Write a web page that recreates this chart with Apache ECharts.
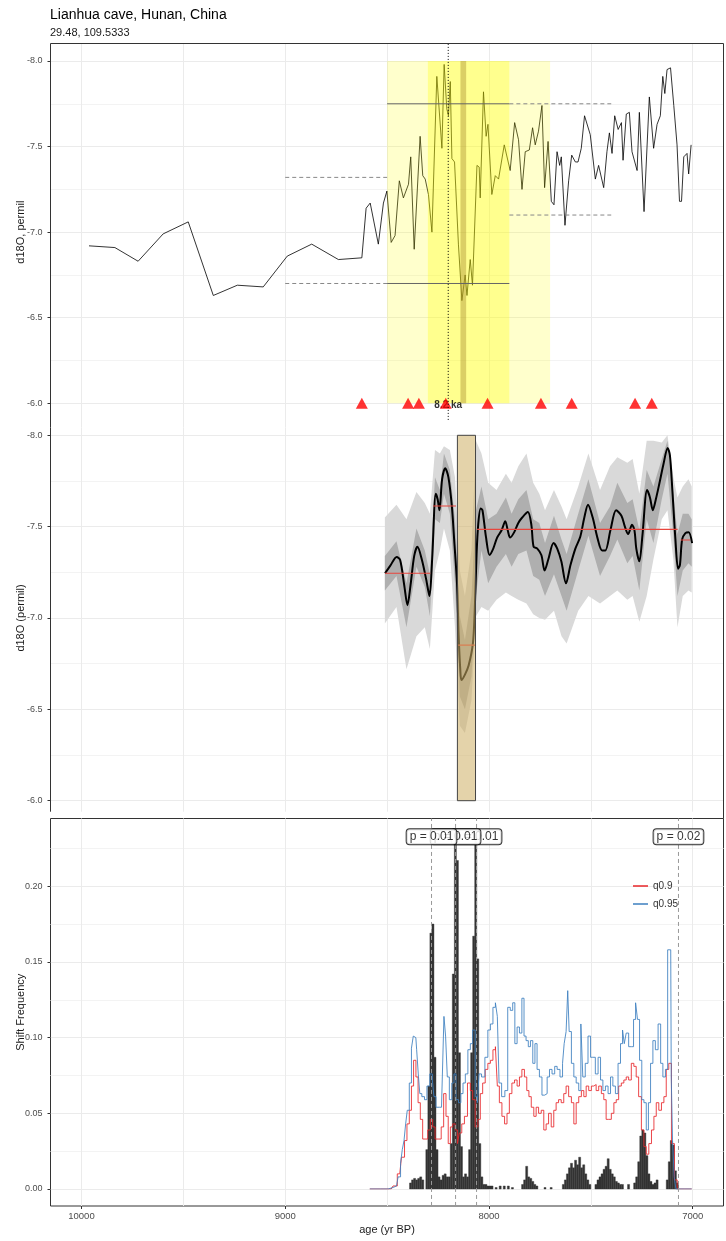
<!DOCTYPE html>
<html>
<head>
<meta charset="utf-8">
<title>Lianhua cave, Hunan, China</title>
<script src="https://cdn.jsdelivr.net/npm/echarts@6/dist/echarts.min.js"></script>
<style>
html,body{margin:0;padding:0;background:#ffffff;}
#chart{width:726px;height:1241px;}
</style>
</head>
<body>
<div id="chart"></div>
<script>
// ======================= DATA =======================
// --- panel 1: raw d18O record ---
const rawAge = [9963,9836,9722,9599,9476,9353,9235,9108,8990,8870,8739,8624,
  8603,8583,8543,8518,8501,8480,8461,8440,8420,8395,8384,8367,8338,8325,8313,8297,8280,8256,8231,8220,
  8207,8199,8190,8182,8169,8150,8133,8117,8108,8092,8081,8059,8048,8043,8027,8014,8005,7986,7969,7953,
  7925,7896,7874,7855,7838,7822,7802,7786,7773,7757,7740,7727,7710,7694,7681,7666,7653,7645,7627,7609,
  7594,7576,7563,7547,7531,7503,7478,7462,7437,7421,7409,7396,7383,7366,7350,7342,7326,7311,7298,7273,
  7262,7239,7213,7192,7175,7159,7147,7137,7126,7109,7093,7077,7065,7055,7044,7028,7020,7008];
const rawD18O = [-6.92,-6.91,-6.83,-6.99,-7.06,-6.63,-6.69,-6.68,-6.86,-6.93,-6.84,-6.85,
  -7.14,-7.17,-6.93,-7.17,-7.24,-6.94,-6.98,-7.30,-7.20,-7.28,-7.44,-6.90,-7.56,-7.33,-7.31,-7.22,-7.00,-7.91,-7.49,-7.98,
  -7.72,-7.68,-7.88,-7.43,-7.41,-6.93,-6.60,-6.75,-6.63,-6.84,-6.69,-7.39,-7.38,-7.20,-7.82,-7.56,-7.63,-7.22,-7.33,-7.31,
  -7.51,-7.36,-7.64,-7.54,-7.25,-7.47,-7.48,-7.61,-7.51,-7.59,-7.74,-7.26,-7.53,-7.18,-7.16,-7.47,-7.39,-7.44,-7.04,-7.30,
  -7.45,-7.41,-7.41,-7.49,-7.68,-7.57,-7.31,-7.39,-7.26,-7.47,-7.58,-7.46,-7.68,-7.60,-7.64,-7.42,-7.69,-7.70,-7.47,-7.36,
  -7.70,-7.12,-7.79,-7.49,-7.63,-7.68,-7.91,-7.81,-7.95,-7.96,-7.74,-7.51,-7.18,-7.18,-7.44,-7.46,-7.34,-7.51];
const windowStart = [8500, 8300, 8140];
const windowEnd   = [7700, 7900, 8112];
const meanStart = [8500, 8500, 9000, 9000, 7900, 7900];
const meanEnd   = [7900, 7900, 8500, 8500, 7400, 7400];
const meanLevel = [-7.75, -6.70, -7.32, -6.70, -7.75, -7.10];
const meanInEvent = [true, true, false, false, false, false];
const dateAge = [8624, 8397, 8344, 8212, 8007, 7745, 7594, 7283, 7201];
const refAge = 8200;
const refLabel = '8.2 ka';

// --- panel 2: smoothed record with uncertainty ---
const smAge = [8510,8485,8453,8436,8416,8400,8385,8367,8351,8329,8308,8292,8279,8261,8252,8243,8230,8215,8199,8182,
  8171,8157,8149,8141,8135,8118,8100,8079,8070,8061,8053,8041,8032,8015,7997,7979,7960,7938,7920,7908,7896,7876,
  7856,7837,7809,7792,7781,7763,7743,7727,7709,7683,7665,7645,7622,7600,7576,7552,7532,7514,7491,7468,7445,7429,
  7404,7376,7350,7333,7317,7298,7286,7277,7262,7247,7224,7210,7196,7181,7163,7144,7123,7112,7100,7085,7072,7063,
  7052,7036,7020,7003];
const smVal = [-7.245,-7.285,-7.334,-7.317,-7.18,-7.07,-7.18,-7.34,-7.39,-7.317,-7.21,-7.12,-7.32,-7.68,-7.65,-7.59,-7.76,-7.82,-7.77,-7.61,
  -7.43,-7.19,-6.91,-6.72,-6.66,-6.69,-6.74,-6.86,-7.04,-7.345,-7.51,-7.60,-7.59,-7.445,-7.345,-7.38,-7.44,-7.48,-7.53,-7.48,-7.44,-7.47,
  -7.52,-7.55,-7.58,-7.51,-7.39,-7.38,-7.345,-7.26,-7.32,-7.41,-7.38,-7.31,-7.19,-7.29,-7.38,-7.445,-7.55,-7.62,-7.55,-7.44,-7.37,-7.37,
  -7.48,-7.59,-7.56,-7.50,-7.46,-7.51,-7.48,-7.38,-7.31,-7.45,-7.70,-7.66,-7.59,-7.65,-7.74,-7.84,-7.93,-7.89,-7.70,-7.43,-7.27,-7.29,
  -7.43,-7.465,-7.47,-7.41];
const bandAge = [8511,8454,8405,8356,8315,8290,8265,8241,8221,8192,8167,8143,8118,8086,8064,8037,8004,7963,7917,7889,7856,7816,
  7783,7753,7725,7681,7644,7619,7562,7512,7455,7406,7370,7321,7295,7262,7226,7193,7152,7124,7095,7075,7049,7021,7005];
const outerLo = [-7.55,-7.62,-7.54,-7.69,-7.63,-7.57,-7.92,-7.90,-7.94,-7.92,-7.77,-7.26,-7.12,-7.37,-7.97,-7.90,-7.74,-7.70,-7.79,-7.74,-7.83,-7.90,
  -7.74,-7.68,-7.59,-7.70,-7.61,-7.54,-7.72,-7.90,-7.70,-7.83,-7.88,-7.85,-7.87,-7.68,-7.97,-7.97,-7.96,-8.00,-7.77,-7.66,-7.72,-7.76,-7.72];
const outerHi = [-6.97,-7.06,-6.72,-6.90,-6.95,-6.83,-7.26,-7.37,-7.49,-7.37,-6.95,-6.41,-6.37,-6.55,-7.01,-7.06,-7.04,-7.10,-7.14,-7.12,-7.10,-7.08,
  -7.02,-7.00,-6.99,-7.04,-6.90,-6.86,-7.04,-7.12,-7.08,-7.12,-7.15,-7.10,-7.12,-6.98,-7.12,-7.32,-7.54,-7.59,-7.32,-6.95,-7.12,-7.15,-7.14];
const innerLo = [-7.34,-7.42,-7.19,-7.49,-7.37,-7.24,-7.77,-7.70,-7.90,-7.81,-7.54,-7.01,-6.88,-7.12,-7.59,-7.72,-7.54,-7.57,-7.66,-7.57,-7.65,-7.70,
  -7.54,-7.52,-7.41,-7.56,-7.43,-7.35,-7.57,-7.76,-7.52,-7.61,-7.74,-7.63,-7.65,-7.48,-7.81,-7.72,-7.87,-7.97,-7.68,-7.46,-7.57,-7.57,-7.54];
const innerHi = [-7.15,-7.23,-6.95,-7.28,-7.17,-7.01,-7.54,-7.52,-7.68,-7.57,-7.19,-6.57,-6.50,-6.68,-7.12,-7.37,-7.19,-7.28,-7.35,-7.28,-7.35,-7.37,
  -7.23,-7.21,-7.12,-7.24,-7.12,-7.04,-7.26,-7.45,-7.23,-7.34,-7.43,-7.30,-7.34,-7.15,-7.54,-7.41,-7.65,-7.79,-7.45,-7.12,-7.26,-7.30,-7.28];
const regimeStart = [8510, 8274, 8151, 8058, 7059];
const regimeEnd   = [8288, 8162, 8069, 7074, 7013];
const regimeMean  = [-7.245, -7.613, -6.852, -7.485, -7.427];
const shiftStart = 8155, shiftEnd = 8066;

// --- panel 3: shift frequency ---
const histAge = [8385,8375,8365,8355,8345,8335,8325,
  8305,8295,8285,8275,8265,8255,8245,8235,8225,8215,8205,
  8195,8185,8175,8165,8155,8145,8135,8125,8115,
  8105,8095,8085,8075,8065,8055,8045,8035,
  8025,8015,8005,7995,7985,7965,7945,7925,7905,7885,
  7835,7825,7815,7805,7795,7785,7775,7765,7725,7695,
  7635,7625,7615,7605,7595,7585,7575,7565,7555,7545,7535,7525,7515,7505,
  7475,7465,7455,7445,7435,7425,7415,7405,7395,7385,7375,7365,7355,7345,7315,
  7285,7275,7265,7255,7245,7235,7225,7215,7205,7195,7185,7175,
  7125,7115,7105,7095,7085,7075];
const histFreq = [0.004,0.006,0.007,0.006,0.007,0.008,0.006,
  0.026,0.068,0.169,0.175,0.087,0.026,0.008,0.006,0.009,0.010,0.008,
  0.008,0.030,0.142,0.230,0.217,0.090,0.028,0.008,0.010,
  0.008,0.026,0.090,0.167,0.235,0.152,0.030,0.008,
  0.003,0.003,0.002,0.002,0.002,0.001,0.002,0.002,0.002,0.001,
  0.003,0.006,0.015,0.008,0.007,0.005,0.003,0.002,0.001,0.001,
  0.003,0.006,0.010,0.014,0.017,0.014,0.019,0.016,0.021,0.014,0.016,0.010,0.006,0.003,
  0.003,0.006,0.008,0.010,0.013,0.015,0.020,0.013,0.010,0.008,0.005,0.004,0.003,0.003,0.003,
  0.004,0.008,0.018,0.035,0.039,0.037,0.022,0.010,0.005,0.003,0.004,0.006,
  0.006,0.018,0.032,0.029,0.012,0.004];
const q90Age = [8585,8480,8462,8438,8421,8408,8397,8385,8376,8364,
  8353,8343,8331,8320,8307,8294,8282,8271,8258,8241,
  8228,8217,8205,8195,8184,8172,8159,8151,8140,8127,
  8114,8097,8086,8074,8061,8048,8037,8025,8012,7999,
  7987,7974,7963,7955,7943,7930,7917,7906,7894,7881,
  7868,7856,7845,7832,7820,7809,7799,7786,7774,7763,
  7750,7737,7725,7714,7701,7688,7676,7665,7652,7639,
  7627,7616,7602,7589,7578,7566,7553,7540,7529,7517,
  7504,7491,7480,7468,7455,7442,7431,7419,7406,7393,
  7381,7370,7357,7344,7332,7321,7308,7295,7283,7272,
  7259,7245,7234,7222,7209,7196,7185,7173,7160,7147,
  7136,7124,7111,7098,7082,7070,7005];
const q90Val = [0,0,0.002,0.010,0.021,0.032,0.043,0.052,0.068,0.085,
  0.074,0.057,0.046,0.033,0.033,0.039,0.046,0.041,0.033,0.033,
  0.041,0.063,0.048,0.030,0.041,0.043,0.039,0.030,0.037,0.043,
  0.048,0.070,0.065,0.059,0.041,0.046,0.063,0.070,0.079,0.083,
  0.085,0.092,0.094,0.068,0.057,0.048,0.043,0.050,0.063,0.070,
  0.072,0.068,0.074,0.079,0.074,0.065,0.061,0.054,0.048,0.054,
  0.050,0.052,0.039,0.043,0.050,0.041,0.052,0.057,0.059,0.057,
  0.063,0.068,0.061,0.057,0.043,0.057,0.061,0.065,0.061,0.068,
  0.065,0.068,0.069,0.065,0.068,0.063,0.059,0.046,0.046,0.050,
  0.057,0.059,0.068,0.070,0.072,0.074,0.072,0.083,0.081,0.074,
  0.061,0.039,0.028,0.023,0.030,0.039,0.048,0.057,0.052,0.057,
  0.061,0.079,0.083,0.030,0.006,0,0];
const q95Age = [8585,8495,8487,8454,8438,8430,8421,8413,8405,8397,
  8385,8376,8367,8359,8351,8343,8336,8323,8310,8299,
  8282,8274,8266,8254,8233,8225,8217,8209,8200,8189,
  8176,8168,8156,8143,8133,8122,8110,8097,8086,8074,
  8061,8053,8045,8028,8012,7999,7987,7974,7963,7955,
  7946,7930,7914,7902,7889,7878,7868,7856,7845,7832,
  7824,7812,7802,7791,7779,7770,7758,7747,7733,7720,
  7709,7697,7684,7671,7660,7643,7635,7627,7616,7611,
  7602,7589,7578,7566,7553,7545,7534,7521,7507,7496,
  7485,7471,7458,7447,7435,7422,7409,7398,7386,7373,
  7360,7349,7340,7332,7321,7308,7295,7286,7275,7267,
  7255,7245,7234,7222,7213,7201,7190,7177,7163,7152,
  7141,7127,7119,7108,7103,7095,7087,7078,7005];
const q95Val = [0,0,0.001,0.002,0.008,0.017,0.026,0.032,0.043,0.052,
  0.070,0.093,0.101,0.100,0.092,0.076,0.063,0.061,0.059,0.068,
  0.076,0.072,0.061,0.054,0.054,0.074,0.114,0.101,0.074,0.059,
  0.070,0.076,0.059,0.057,0.063,0.070,0.076,0.092,0.096,0.105,
  0.061,0.057,0.076,0.074,0.087,0.105,0.109,0.120,0.123,0.114,
  0.070,0.061,0.065,0.120,0.118,0.123,0.096,0.107,0.103,0.126,
  0.101,0.098,0.094,0.098,0.083,0.096,0.079,0.074,0.062,0.063,
  0.074,0.079,0.076,0.081,0.079,0.074,0.083,0.096,0.104,0.131,
  0.104,0.083,0.074,0.070,0.065,0.109,0.074,0.083,0.101,0.087,
  0.087,0.076,0.087,0.072,0.065,0.068,0.063,0.074,0.068,0.063,
  0.083,0.096,0.105,0.096,0.103,0.094,0.094,0.112,0.123,0.112,
  0.085,0.059,0.057,0.039,0.057,0.083,0.098,0.092,0.109,0.083,
  0.074,0.079,0.158,0.158,0.074,0.032,0.008,0,0];
const pAge  = [7070, 8061, 8164, 8282];
const pText = ['p = 0.02', 'p = 0.01', 'p = 0.01', 'p = 0.01'];

// axis tick values
const gridAges  = [7000, 7500, 8000, 8500, 9000, 9500, 10000];
const ageLabels = [7000, 8000, 9000, 10000];
const freqTicks = [0, 0.05, 0.10, 0.15, 0.20];

// ======================= LAYOUT / STYLE =======================
const W = 726;
const X_MIN = 6849, X_MAX = 10152;
const D_MIN = -8, D_MAX = -6;
const PLOT_L = 50.5, PLOT_R = 723.5;
const G0 = [61, 403.3], G1 = [435.3, 800.7], G2 = [810.5, 1189];
const BG1 = [43.5, 811.7], BG2 = [818.5, 1206];
const REF_SPAN = [-8.10, -5.90];
const FREQ_SPAN = [-0.0112, 0.2447];
const P_LABEL_Y = 0.2327;
const BIN_HALF = 5;
const NAME_GAP = 24;
const FONT = '"Liberation Sans", Arial, Helvetica, sans-serif';
const GRID_COL = '#ebebeb', MINOR_COL = '#f3f3f3', LAB_COL = '#4d4d4d', TICK_COL = '#333333';
const WINDOW_FILLS = ['rgba(255,255,0,0.2)', 'rgba(255,255,0,0.3)', 'rgba(165,135,40,0.4)'];

function gridBox(r){ return {left: PLOT_L, right: W - PLOT_R, top: r[0], height: r[1] - r[0]}; }

function hiddenX(gi){ return {type:'value', gridIndex:gi, min:X_MIN, max:X_MAX, inverse:true, show:false}; }
function bgX(gi){ return {type:'value', gridIndex:gi, min:X_MIN, max:X_MAX, inverse:true, position:'bottom',
  axisLine:{show:false}, axisTick:{show:false, customValues:gridAges}, axisLabel:{show:false},
  splitLine:{show:true, lineStyle:{color:GRID_COL, width:1}}}; }
function d18oY(gi, name){ return {type:'value', gridIndex:gi, min:D_MIN, max:D_MAX, interval:0.5, inverse:true,
  name:name, nameLocation:'middle', nameGap:NAME_GAP, nameMoveOverlap:false,
  nameTextStyle:{fontSize:11, color:'#1a1a1a', fontFamily:FONT},
  axisLine:{show:false}, axisTick:{show:true, length:3, lineStyle:{color:TICK_COL}},
  axisLabel:{fontSize:9, color:LAB_COL, margin:8, fontFamily:FONT, formatter:v => v.toFixed(1)},
  splitLine:{show:true, lineStyle:{color:GRID_COL, width:1}},
  minorTick:{show:false, splitNumber:2}, minorSplitLine:{show:true, lineStyle:{color:MINOR_COL, width:1}}}; }

function rectRender(fills, stroke){
  return function(params, api){
    const p0 = api.coord([api.value(0), api.value(2)]);
    const p1 = api.coord([api.value(1), api.value(3)]);
    return {type:'rect', shape:{x:Math.min(p0[0],p1[0]), y:Math.min(p0[1],p1[1]),
      width:Math.abs(p1[0]-p0[0]), height:Math.abs(p1[1]-p0[1])},
      style: stroke ? {fill:fills[params.dataIndex], stroke:stroke, lineWidth:1} : {fill:fills[params.dataIndex]}};
  };
}
function bandSeries(lo, hi, fill, z){
  return {type:'custom', xAxisIndex:1, yAxisIndex:1, z:z, silent:true,
    data: bandAge.map((a,i) => [a, lo[i], hi[i]]), encode:{x:0, y:[1,2]},
    renderItem: (params, api) => {
      if (params.dataIndex !== 0) return null;
      const up = bandAge.map((a,i) => api.coord([a, lo[i]]));
      const dn = bandAge.map((a,i) => api.coord([a, hi[i]])).reverse();
      return {type:'polygon', shape:{points: up.concat(dn)}, style:{fill:fill}};
    }};
}

const series = [];
// ---- panel 1 ----
series.push({type:'line', xAxisIndex:0, yAxisIndex:0, z:2, silent:true, symbol:'none',
  data: rawAge.map((a,i) => [a, rawD18O[i]]), lineStyle:{color:'#000', width:0.8}});
series.push({type:'custom', xAxisIndex:0, yAxisIndex:0, z:3, silent:true,
  data: windowStart.map((s,i) => [s, windowEnd[i], D_MIN, D_MAX]), encode:{x:[0,1], y:[2,3]},
  renderItem: rectRender(WINDOW_FILLS, null)});
meanStart.forEach((s,i) => {
  series.push({type:'line', xAxisIndex:0, yAxisIndex:0, z:4, silent:true, symbol:'none',
    data:[[s, meanLevel[i]], [meanEnd[i], meanLevel[i]]],
    lineStyle: meanInEvent[i] ? {color:'#666', width:1} : {color:'#888', width:1, type:[4,3]}});
});
series.push({type:'scatter', xAxisIndex:0, yAxisIndex:0, z:4, silent:true, clip:false, symbolSize:0,
  data:[[refAge, D_MAX]],
  label:{show:true, position:'inside', offset:[0,2], formatter:refLabel, fontWeight:'bold', fontSize:10, color:'#000', fontFamily:FONT}});
series.push({type:'scatter', xAxisIndex:0, yAxisIndex:0, z:6, silent:true, clip:false,
  symbol:'triangle', symbolSize:[12,11], itemStyle:{color:'#ff0000'},
  data: dateAge.map(a => [a, D_MAX])});
series.push({type:'line', xAxisIndex:0, yAxisIndex:0, z:7, silent:true, clip:false, symbol:'none',
  data:[[refAge, REF_SPAN[0]], [refAge, REF_SPAN[1]]], lineStyle:{color:'#000', width:1, type:[1,2]}});

// ---- panel 2 ----
series.push(bandSeries(outerLo, outerHi, '#d9d9d9', 2));
series.push(bandSeries(innerLo, innerHi, '#afafaf', 2));
series.push({type:'line', xAxisIndex:1, yAxisIndex:1, z:3, silent:true, symbol:'none', smooth:0.3,
  data: smAge.map((a,i) => [a, smVal[i]]), lineStyle:{color:'#000', width:2}});
regimeStart.forEach((s,i) => {
  series.push({type:'line', xAxisIndex:1, yAxisIndex:1, z:4, silent:true, symbol:'none',
    data:[[s, regimeMean[i]], [regimeEnd[i], regimeMean[i]]], lineStyle:{color:'#e8453c', width:1.2}});
});
series.push({type:'custom', xAxisIndex:1, yAxisIndex:1, z:5, silent:true,
  data:[[shiftStart, shiftEnd, D_MIN, D_MAX]], encode:{x:[0,1], y:[2,3]},
  renderItem: rectRender(['rgba(205,175,100,0.55)'], '#444')});

// ---- panel 3 ----
series.push({type:'custom', xAxisIndex:2, yAxisIndex:2, z:2, silent:true,
  data: histAge.map((a,i) => [a, histFreq[i]]), encode:{x:0, y:1},
  renderItem: (params, api) => {
    const a = api.value(0), f = api.value(1);
    const p0 = api.coord([a + BIN_HALF, f]), p1 = api.coord([a - BIN_HALF, 0]);
    return {type:'rect', shape:{x:Math.min(p0[0],p1[0]), y:Math.min(p0[1],p1[1]),
      width:Math.abs(p1[0]-p0[0]), height:Math.abs(p1[1]-p0[1])},
      style:{fill:'#333333', stroke:'#333333', lineWidth:0.4}};
  }});
series.push({type:'line', name:'q0.9', xAxisIndex:2, yAxisIndex:2, z:3, silent:true, symbol:'none', step:'middle',
  data: q90Age.map((a,i) => [a, q90Val[i]]), lineStyle:{color:'#e8262a', width:1, opacity:0.85}, itemStyle:{color:'#e8262a'}});
series.push({type:'line', name:'q0.95', xAxisIndex:2, yAxisIndex:2, z:3, silent:true, symbol:'none', step:'middle',
  data: q95Age.map((a,i) => [a, q95Val[i]]), lineStyle:{color:'#3c7fbf', width:1, opacity:0.85}, itemStyle:{color:'#3c7fbf'}});
pAge.forEach(a => {
  series.push({type:'line', xAxisIndex:2, yAxisIndex:2, z:8, silent:true, clip:false, symbol:'none',
    data:[[a, FREQ_SPAN[0]], [a, FREQ_SPAN[1]]], lineStyle:{color:'#999', width:1, type:[4,3]}});
});
series.push({type:'scatter', xAxisIndex:2, yAxisIndex:2, z:10, silent:true, clip:false, symbolSize:0,
  data: pAge.map((a,i) => ({value:[a, P_LABEL_Y], label:{formatter:pText[i]}})),
  label:{show:true, position:'inside', color:'#000', fontSize:12, fontFamily:FONT,
    backgroundColor:'#fff', borderColor:'#000', borderWidth:1, borderRadius:3, padding:[2,3,1,3]}});

const option = {
  animation:false,
  backgroundColor:'#ffffff',
  textStyle:{fontFamily:FONT},
  title:{text:'Lianhua cave, Hunan, China', subtext:'29.48, 109.5333', left:50, top:8, padding:0, itemGap:5,
    textStyle:{fontSize:14, fontWeight:'normal', color:'#000', fontFamily:FONT},
    subtextStyle:{fontSize:11, color:'#1a1a1a', fontFamily:FONT}},
  legend:{data:['q0.9','q0.95'], orient:'vertical', left:633, top:881, padding:0, icon:'rect',
    itemWidth:15, itemHeight:1.5, itemGap:8,
    textStyle:{fontSize:10, color:'#333', fontFamily:FONT}},
  grid:[gridBox(G0), gridBox(G1), gridBox(G2), gridBox(BG1),
    Object.assign(gridBox(BG2), {show:true, borderColor:'#333333', borderWidth:1, backgroundColor:'transparent'})],
  xAxis:[hiddenX(0), hiddenX(1), hiddenX(2), bgX(3), bgX(4),
    {type:'value', gridIndex:4, min:X_MIN, max:X_MAX, inverse:true, position:'bottom',
      name:'age (yr BP)', nameLocation:'middle', nameGap:18, nameTextStyle:{fontSize:11, color:'#1a1a1a', fontFamily:FONT},
      axisLine:{show:false}, axisTick:{show:true, length:3, customValues:ageLabels, lineStyle:{color:TICK_COL}},
      axisLabel:{show:true, customValues:ageLabels, fontSize:9.5, color:LAB_COL, margin:5, fontFamily:FONT,
        formatter:v => String(v)},
      splitLine:{show:false}}],
  yAxis:[d18oY(0, 'd18O, permil'), d18oY(1, 'd18O (permil)'),
    {type:'value', gridIndex:2, min:0, max:0.25, interval:0.05,
      axisLine:{show:false}, axisTick:{show:true, length:3, customValues:freqTicks, lineStyle:{color:TICK_COL}},
      axisLabel:{customValues:freqTicks, fontSize:9, color:LAB_COL, margin:8, fontFamily:FONT, formatter:v => v.toFixed(2)},
      splitLine:{show:true, lineStyle:{color:GRID_COL, width:1}},
      minorTick:{show:false, splitNumber:2}, minorSplitLine:{show:true, lineStyle:{color:MINOR_COL, width:1}}},
    {type:'value', gridIndex:3, show:false},
    {type:'value', gridIndex:4, name:'Shift Frequency', nameLocation:'middle', nameGap:NAME_GAP, nameMoveOverlap:false,
      nameTextStyle:{fontSize:11, color:'#1a1a1a', fontFamily:FONT},
      axisLine:{show:false}, axisTick:{show:false}, axisLabel:{show:false}, splitLine:{show:false}}],
  graphic:[{type:'polyline', silent:true, z:100,
    shape:{points:[[PLOT_R, BG2[0]], [PLOT_R, BG1[0]], [PLOT_L, BG1[0]], [PLOT_L, BG1[1]]]},
    style:{stroke:'#333333', lineWidth:1, fill:null}}],
  series: series
};

const chart = echarts.init(document.getElementById('chart'), null, {renderer:'canvas', width:726, height:1241});
chart.setOption(option);
</script>
</body>
</html>
